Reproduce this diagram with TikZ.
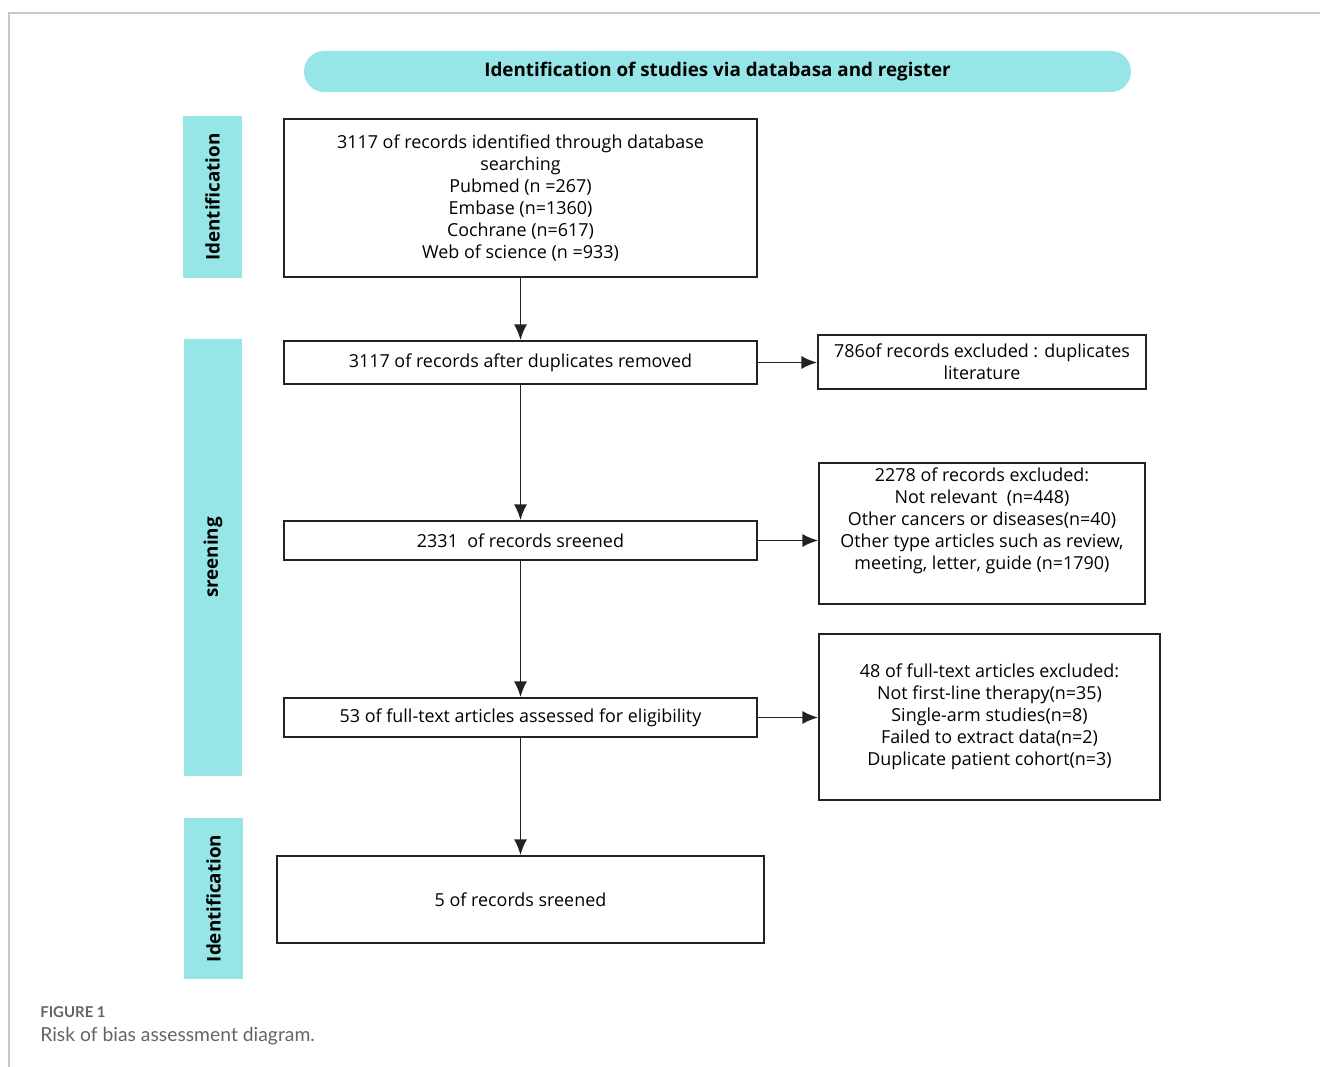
\documentclass[tikz,border=0pt]{standalone}
\usepackage{fontspec}
\setmainfont{Open Sans}
\newfontfamily\leyenda{Lato}
\usetikzlibrary{arrows.meta,positioning}
\definecolor{cian}{RGB}{150,230,232}
\definecolor{borde}{RGB}{34,34,34}
\definecolor{marco}{RGB}{200,200,200}
\definecolor{gris}{RGB}{100,100,100}

\begin{document}
\begin{tikzpicture}[x=0.02cm,y=-0.02cm]
% estilos de linea y relleno
\tikzstyle{caja}=[draw=borde,line width=1pt,align=center,inner sep=2pt,font=\fontsize{10.2}{12.5}\selectfont]
\tikzstyle{fase}=[fill=cian,rotate=90,inner sep=0pt,font=\bfseries\fontsize{10.7}{13}\selectfont]
\tikzstyle{flecha}=[line width=1.1pt,draw=borde,-{Latex[length=9pt,width=7.5pt]}]
% marco de la figura
\useasboundingbox (0,0) rectangle (1320,1067);
\draw[marco,line width=0.8pt] (9,1067) -- (9,13) -- (1320,13);
% titulo
\node[fill=cian,rounded corners=0.4cm,minimum width=16.54cm,minimum height=0.82cm,
  font=\bfseries\fontsize{10.7}{12}\selectfont] (titulo) at (717.5,71.5)
  {Identification of studies via databasa and register};
% etiquetas de fase
\node[fase,minimum width=3.24cm,minimum height=1.18cm] (fase1) at (212.5,197) {Identification};
\node[fase,minimum width=8.74cm,minimum height=1.16cm] (fase2) at (213,557.5) {sreening};
\node[fase,minimum width=3.22cm,minimum height=1.18cm] (fase3) at (213.5,898.5) {Identification};
% cajas principales
\node[caja,minimum width=9.46cm,minimum height=3.16cm] (A) at (520.5,198)
  {3117 of records identified through database\\searching\\Pubmed (n =267)\\Embase (n=1360)\\Cochrane (n=617)\\Web of science (n =933)};
\node[caja,minimum width=9.46cm,minimum height=0.86cm] (B) at (520.5,362.5)
  {3117 of records after duplicates removed};
\node[caja,minimum width=9.46cm,minimum height=0.78cm] (D) at (520.5,540.5)
  {2331\ \ of records sreened};
\node[caja,minimum width=9.46cm,minimum height=0.78cm] (F) at (520.5,717.5)
  {53 of full-text articles assessed for eligibility};
\node[caja,minimum width=9.74cm,minimum height=1.74cm] (H) at (520.5,899.5)
  {5 of records sreened};
% cajas de excluidos
\node[caja,minimum width=6.56cm,minimum height=1.08cm] (C) at (982,362)
  {786of records excluded : duplicates\\literature};
\node[caja,minimum width=6.52cm,minimum height=2.82cm] (E) at (982,533.5) {};
\node[align=center,inner sep=3pt,below=0pt of E.north,font=\fontsize{10.2}{12.5}\selectfont] (Etexto)
  {2278 of records excluded:\\Not relevant\ \ (n=448)\\Other cancers or diseases(n=40)\\Other type articles such as review,\\meeting, letter, guide (n=1790)};
\node[caja,minimum width=6.82cm,minimum height=3.32cm] (G) at (989.5,717)
  {48 of full-text articles excluded:\\Not first-line therapy(n=35)\\Single-arm studies(n=8)\\Failed to extract data(n=2)\\Duplicate patient cohort(n=3)};
% dibujar flechas
\draw[flecha] (A) -- (B);
\draw[flecha] (B) -- (D);
\draw[flecha] (D) -- (F);
\draw[flecha] (F) -- (H);
\draw[flecha] (B.east) -- (B.east -| C.west);
\draw[flecha] (D.east) -- (D.east -| E.west);
\draw[flecha] (F.east) -- (F.east -| G.west);
% leyenda
\node[anchor=base west,inner sep=0pt,text=gris,font=\leyenda\bfseries\fontsize{8.5}{10}\selectfont] (figura) at (40,1017) {FIGURE 1};
\node[anchor=base west,inner sep=0pt,text=gris,font=\leyenda\fontsize{11}{12}\selectfont] (pie) at (40,1041) {Risk of bias assessment diagram.};
\end{tikzpicture}
\end{document}
